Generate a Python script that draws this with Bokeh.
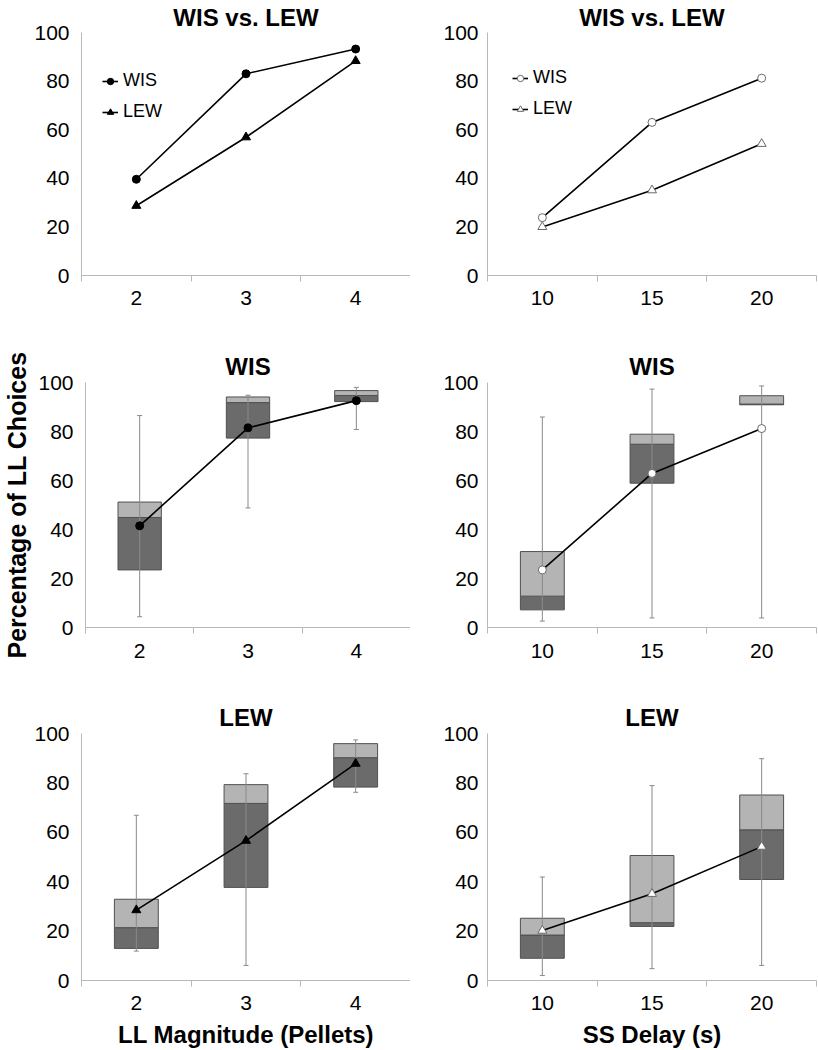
from bokeh.plotting import figure
from bokeh.models import FixedTicker, Range1d, Legend, LegendItem
from bokeh.layouts import column, row
from bokeh.embed import file_html
from bokeh.resources import INLINE

# ---------------- data ----------------
mag_labels = ["2", "3", "4"]
delay_labels = ["10", "15", "20"]
y_ticks = [0, 20, 40, 60, 80, 100]

# top row: group means
wis_mag_top = [39.6, 83.0, 93.2]
lew_mag_top = [28.7, 56.9, 88.3]
wis_delay_top = [23.8, 63.0, 81.2]
lew_delay_top = [20.0, 35.1, 54.2]

# WIS, LL magnitude
wis_mag_min = [4.4, 48.8, 80.8]
wis_mag_q1 = [23.5, 77.3, 92.2]
wis_mag_med = [44.9, 91.8, 94.7]
wis_mag_q3 = [51.2, 94.1, 96.7]
wis_mag_max = [86.5, 94.8, 98.0]
wis_mag_mean = [41.5, 81.5, 92.6]

# WIS, SS delay
wis_delay_min = [2.6, 3.9, 3.9]
wis_delay_q1 = [7.2, 58.9, 90.9]
wis_delay_med = [12.8, 74.8, 91.2]
wis_delay_q3 = [31.0, 78.9, 94.6]
wis_delay_max = [85.9, 97.3, 98.6]
wis_delay_mean = [23.5, 62.9, 81.2]

# LEW, LL magnitude
lew_mag_min = [11.9, 6.1, 76.2]
lew_mag_q1 = [13.0, 37.7, 78.3]
lew_mag_med = [21.4, 71.7, 90.2]
lew_mag_q3 = [32.9, 79.3, 95.9]
lew_mag_max = [66.9, 83.7, 97.4]
lew_mag_mean = [28.5, 56.6, 87.8]

# LEW, SS delay
lew_delay_min = [2.0, 4.8, 6.1]
lew_delay_q1 = [9.0, 21.9, 40.9]
lew_delay_med = [18.4, 23.4, 61.0]
lew_delay_q3 = [25.2, 50.6, 75.1]
lew_delay_max = [41.9, 78.9, 89.8]
lew_delay_mean = [20.2, 35.1, 54.2]

# ---------------- style ----------------
FONT = "Liberation Sans"
AXIS_COLOR = "#b8b8b8"
DARK = "#6b6b6b"
LIGHT = "#b4b4b4"
BORDER = "#505050"
WHISK = "#8a8a8a"
OPEN_EDGE = "#6a6a6a"


def make_fig(labels, width, height, bl, br, bt, bb, label_standoff, ytick_standoff,
             title, title_standoff):
    n = len(labels)
    p = figure(width=width, height=height,
               x_range=Range1d(0.5, n + 0.5), y_range=Range1d(0, 100),
               output_backend="svg", toolbar_location=None,
               min_border_left=bl, min_border_right=br,
               min_border_top=bt, min_border_bottom=bb)
    p.outline_line_color = None
    p.xgrid.visible = False
    p.ygrid.visible = False
    p.background_fill_color = "white"
    p.border_fill_color = "white"

    p.title.text = title
    p.title.align = "center"
    p.title.text_font = FONT
    p.title.text_font_size = "24px"
    p.title.text_font_style = "bold"
    p.title.text_color = "black"
    p.title.standoff = title_standoff

    xs = list(range(1, n + 1))
    xa = p.xaxis[0]
    xa.ticker = FixedTicker(ticks=xs, minor_ticks=[x - 0.5 for x in xs] + [n + 0.5])
    xa.major_label_overrides = {x: lab for x, lab in zip(xs, labels)}
    xa.major_tick_out = 0
    xa.major_tick_in = 0
    xa.minor_tick_out = 6
    xa.minor_tick_in = 0
    xa.minor_tick_line_color = AXIS_COLOR
    xa.axis_line_color = AXIS_COLOR
    xa.major_label_text_font = FONT
    xa.major_label_text_font_size = "21px"
    xa.major_label_text_color = "black"
    xa.major_label_standoff = label_standoff

    ya = p.yaxis[0]
    ya.ticker = FixedTicker(ticks=y_ticks)
    ya.major_tick_out = 0
    ya.major_tick_in = 0
    ya.minor_tick_out = 0
    ya.minor_tick_in = 0
    ya.axis_line_color = AXIS_COLOR
    ya.major_label_text_font = FONT
    ya.major_label_text_font_size = "21px"
    ya.major_label_text_color = "black"
    ya.major_label_standoff = ytick_standoff
    return p, xs


def add_mean(p, xs, mean, marker, filled):
    lr = p.line(x=xs, y=mean, line_color="black", line_width=1.6)
    size = 8 if marker == "circle" else 9
    if filled:
        sr = p.scatter(x=xs, y=mean, marker=marker, size=size,
                       fill_color="black", line_color="black")
    else:
        sr = p.scatter(x=xs, y=mean, marker=marker, size=size,
                       fill_color="white", line_color=OPEN_EDGE, line_width=1)
    return lr, sr


def add_boxes(p, xs, mn, q1, med, q3, mx, mean, marker, filled):
    p.vbar(x=xs, bottom=q1, top=med, width=0.4, fill_color=DARK,
           line_color=BORDER, line_width=1)
    p.vbar(x=xs, bottom=med, top=q3, width=0.4, fill_color=LIGHT,
           line_color=BORDER, line_width=1)
    p.segment(x0=xs, y0=mn, x1=xs, y1=mx, line_color=WHISK, line_width=1)
    p.scatter(x=xs, y=mn, marker="dash", size=5, line_color=WHISK, line_width=1)
    p.scatter(x=xs, y=mx, marker="dash", size=5, line_color=WHISK, line_width=1)
    add_mean(p, xs, mean, marker, filled)


def add_legend(p, items, vx, vy):
    leg = Legend(items=items, location=(vx, vy), border_line_color=None,
                 background_fill_alpha=0, label_text_font=FONT,
                 label_text_font_size="18px", label_text_color="black",
                 glyph_width=16, glyph_height=18, label_height=20,
                 label_standoff=5, spacing=10, padding=0, margin=0)
    p.add_layout(leg)


# ---------------- row 1 ----------------
f1, xs1 = make_fig(mag_labels, 410, 320, 81, 0, 31, 45, 9, 12, "WIS vs. LEW", 3)
l1, s1 = add_mean(f1, xs1, wis_mag_top, "circle", True)
l2, s2 = add_mean(f1, xs1, lew_mag_top, "triangle", True)
add_legend(f1, [LegendItem(label="WIS", renderers=[l1, s1]),
                LegendItem(label="LEW", renderers=[l2, s2])], 21, 153)

f2, xs2 = make_fig(delay_labels, 408, 320, 77, 2, 31, 45, 9, 9, "WIS vs. LEW", 3)
l3, s3 = add_mean(f2, xs2, wis_delay_top, "circle", False)
l4, s4 = add_mean(f2, xs2, lew_delay_top, "triangle", False)
add_legend(f2, [LegendItem(label="WIS", renderers=[l3, s3]),
                LegendItem(label="LEW", renderers=[l4, s4])], 25, 156)

# ---------------- row 2 ----------------
f3, xs3 = make_fig(mag_labels, 410, 360, 81, 0, 62, 53, 10, 12, "WIS", 6)
add_boxes(f3, xs3, wis_mag_min, wis_mag_q1, wis_mag_med, wis_mag_q3,
          wis_mag_max, wis_mag_mean, "circle", True)
ya3 = f3.yaxis[0]
ya3.axis_label = "Percentage of LL Choices"
ya3.axis_label_text_font = FONT
ya3.axis_label_text_font_size = "25px"
ya3.axis_label_text_font_style = "bold"
ya3.axis_label_text_color = "black"
ya3.axis_label_standoff = 4

f4, xs4 = make_fig(delay_labels, 408, 360, 77, 2, 62, 53, 10, 9, "WIS", 6)
add_boxes(f4, xs4, wis_delay_min, wis_delay_q1, wis_delay_med, wis_delay_q3,
          wis_delay_max, wis_delay_mean, "circle", False)

# ---------------- row 3 ----------------
f5, xs5 = make_fig(mag_labels, 410, 370, 81, 0, 53, 70, 9, 12, "LEW", 6)
add_boxes(f5, xs5, lew_mag_min, lew_mag_q1, lew_mag_med, lew_mag_q3,
          lew_mag_max, lew_mag_mean, "triangle", True)

f6, xs6 = make_fig(delay_labels, 408, 370, 77, 2, 53, 70, 9, 9, "LEW", 6)
add_boxes(f6, xs6, lew_delay_min, lew_delay_q1, lew_delay_med, lew_delay_q3,
          lew_delay_max, lew_delay_mean, "triangle", False)

for f, lab in ((f5, "LL Magnitude (Pellets)"), (f6, "SS Delay (s)")):
    ax = f.xaxis[0]
    ax.axis_label = lab
    ax.axis_label_text_font = FONT
    ax.axis_label_text_font_size = "24px"
    ax.axis_label_text_font_style = "bold"
    ax.axis_label_text_color = "black"
    ax.axis_label_standoff = 8

layout = column(row(f1, f2), row(f3, f4), row(f5, f6))

with open("out.html", "w") as fh:
    fh.write(file_html(layout, INLINE, title="LL choices"))
